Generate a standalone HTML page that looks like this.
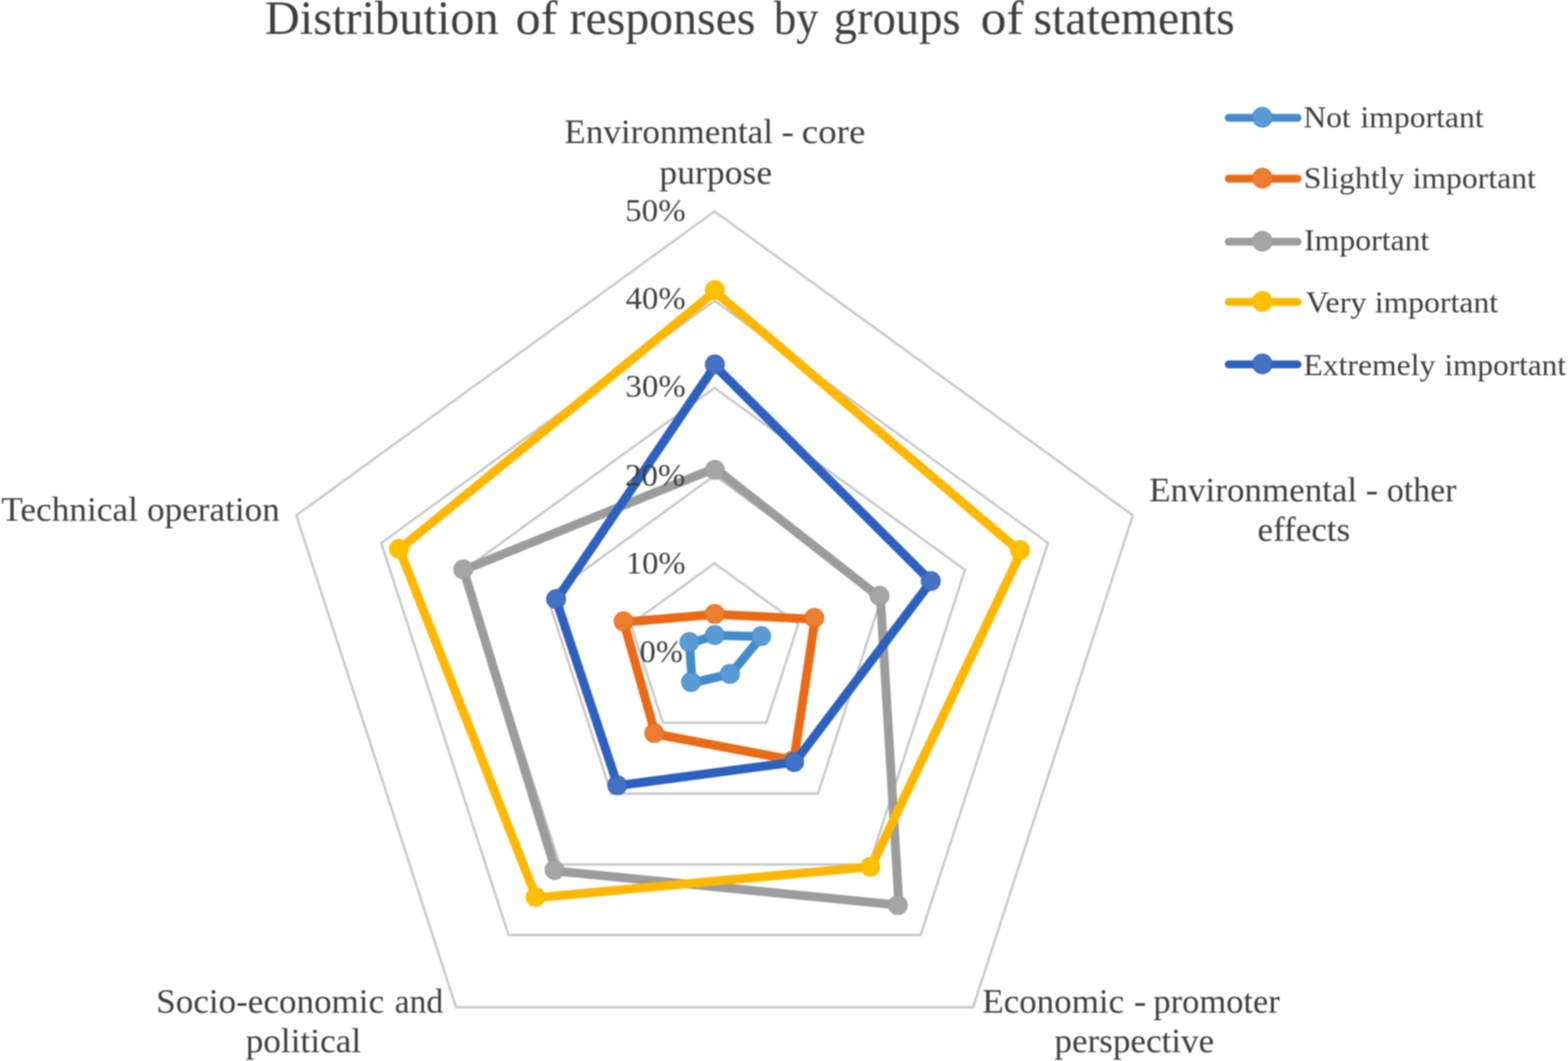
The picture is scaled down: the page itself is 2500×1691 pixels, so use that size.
<!DOCTYPE html>
<html lang="en"><head><meta charset="utf-8">
<title>Distribution of responses by groups of statements</title>
<style>
html,body{margin:0;padding:0;background:#fff;}
body{width:2500px;height:1691px;overflow:hidden;}
svg{display:block;}
text{font-family:"Liberation Serif","DejaVu Serif",serif;fill:#3e3e3e;white-space:pre;}
.grid{fill:none;stroke:#C6C6C6;stroke-width:3.6;stroke-linejoin:round;}
.ser{fill:none;stroke-width:14.2;stroke-linejoin:round;stroke-linecap:round;}
</style></head><body>
<svg width="2500" height="1691" viewBox="0 0 2500 1691">
<defs><filter id="soft" x="0" y="0" width="2500" height="1691" filterUnits="userSpaceOnUse" color-interpolation-filters="sRGB"><feGaussianBlur stdDeviation="1.1"/></filter></defs>
<rect x="0" y="0" width="2500" height="1691" fill="#ffffff"/>
<g filter="url(#soft)">
<g class="grid">
<polygon points="1139.3,897.7 1272.8,994.7 1221.8,1151.7 1056.8,1151.7 1005.8,994.7"/>
<polygon points="1139.3,757.8 1405.9,951.5 1304.1,1264.9 974.5,1264.9 872.7,951.5"/>
<polygon points="1139.3,618.2 1538.6,908.3 1386.1,1377.8 892.5,1377.8 740.0,908.3"/>
<polygon points="1139.3,479.3 1670.8,865.4 1467.8,1490.2 810.8,1490.2 607.8,865.4"/>
<polygon points="1139.3,336.9 1806.2,821.4 1551.5,1605.4 727.1,1605.4 472.4,821.4"/>
</g>
<g>
<polygon class="ser" stroke="#428BCD" points="1139.9,1012.7 1214.3,1014.5 1165.4,1073.8 1103.7,1088.5 1099.3,1025.5"/>
<circle cx="1139.7" cy="1012.1" r="15.05" fill="#5B9BD5" stroke="#428BCD" stroke-width="1.5"/>
<circle cx="1213.7" cy="1013.8" r="15.05" fill="#5B9BD5" stroke="#428BCD" stroke-width="1.5"/>
<circle cx="1163.8" cy="1074.0" r="15.05" fill="#5B9BD5" stroke="#428BCD" stroke-width="1.5"/>
<circle cx="1101.8" cy="1087.0" r="15.05" fill="#5B9BD5" stroke="#428BCD" stroke-width="1.5"/>
<circle cx="1099.2" cy="1023.3" r="15.05" fill="#5B9BD5" stroke="#428BCD" stroke-width="1.5"/>
</g>
<g>
<polygon class="ser" stroke="#E96A17" points="1139.9,979.1 1299.5,986.9 1265.7,1211.8 1044.7,1169.7 994.6,991.5"/>
<circle cx="1139.7" cy="978.5" r="15.05" fill="#ED7D31" stroke="#E96A17" stroke-width="1.5"/>
<circle cx="1298.4" cy="984.8" r="15.05" fill="#ED7D31" stroke="#E96A17" stroke-width="1.5"/>
<circle cx="1264.0" cy="1212.0" r="15.05" fill="#ED7D31" stroke="#E96A17" stroke-width="1.5"/>
<circle cx="1043.0" cy="1168.3" r="15.05" fill="#ED7D31" stroke="#E96A17" stroke-width="1.5"/>
<circle cx="994.2" cy="990.3" r="15.05" fill="#ED7D31" stroke="#E96A17" stroke-width="1.5"/>
</g>
<g>
<polygon class="ser" stroke="#9C9C9C" points="1139.9,746.4 1403.8,953.0 1433.3,1442.5 886.0,1388.2 739.1,908.5"/>
<circle cx="1139.7" cy="748.8" r="15.05" fill="#A5A5A5" stroke="#9C9C9C" stroke-width="1.5"/>
<circle cx="1402.3" cy="949.6" r="15.05" fill="#A5A5A5" stroke="#9C9C9C" stroke-width="1.5"/>
<circle cx="1431.5" cy="1442.7" r="15.05" fill="#A5A5A5" stroke="#9C9C9C" stroke-width="1.5"/>
<circle cx="884.2" cy="1386.7" r="15.05" fill="#A5A5A5" stroke="#9C9C9C" stroke-width="1.5"/>
<circle cx="738.6" cy="907.6" r="15.05" fill="#A5A5A5" stroke="#9C9C9C" stroke-width="1.5"/>
</g>
<g>
<polygon class="ser" stroke="#FFB700" points="1139.9,464.8 1627.7,880.2 1389.0,1381.5 855.1,1430.7 636.8,875.2"/>
<circle cx="1139.7" cy="462.2" r="15.05" fill="#FFC000" stroke="#FFB700" stroke-width="1.5"/>
<circle cx="1626.2" cy="876.8" r="15.05" fill="#FFC000" stroke="#FFB700" stroke-width="1.5"/>
<circle cx="1387.6" cy="1381.5" r="15.05" fill="#FFC000" stroke="#FFB700" stroke-width="1.5"/>
<circle cx="854.0" cy="1429.7" r="15.05" fill="#FFC000" stroke="#FFB700" stroke-width="1.5"/>
<circle cx="636.1" cy="874.9" r="15.05" fill="#FFC000" stroke="#FFB700" stroke-width="1.5"/>
</g>
<g>
<polygon class="ser" stroke="#2D61BF" points="1139.9,583.3 1484.6,926.7 1267.6,1214.5 984.8,1252.1 886.9,956.5"/>
<circle cx="1139.7" cy="580.9" r="15.05" fill="#4472C4" stroke="#2D61BF" stroke-width="1.5"/>
<circle cx="1484.0" cy="926.0" r="15.05" fill="#4472C4" stroke="#2D61BF" stroke-width="1.5"/>
<circle cx="1266.1" cy="1214.5" r="15.05" fill="#4472C4" stroke="#2D61BF" stroke-width="1.5"/>
<circle cx="984.2" cy="1251.5" r="15.05" fill="#4472C4" stroke="#2D61BF" stroke-width="1.5"/>
<circle cx="886.6" cy="954.9" r="15.05" fill="#4472C4" stroke="#2D61BF" stroke-width="1.5"/>
</g>
<g>
<line x1="1959" y1="187.8" x2="2069" y2="187.8" stroke="#428BCD" stroke-width="12.4" stroke-linecap="round"/>
<circle cx="2012.7" cy="187.0" r="15.65" fill="#5B9BD5" stroke="#428BCD" stroke-width="1.5"/>
<line x1="1959" y1="284.8" x2="2069" y2="284.8" stroke="#E96A17" stroke-width="12.4" stroke-linecap="round"/>
<circle cx="2012.7" cy="284.0" r="15.65" fill="#ED7D31" stroke="#E96A17" stroke-width="1.5"/>
<line x1="1959" y1="385.3" x2="2069" y2="385.3" stroke="#9C9C9C" stroke-width="12.4" stroke-linecap="round"/>
<circle cx="2012.7" cy="384.5" r="15.65" fill="#A5A5A5" stroke="#9C9C9C" stroke-width="1.5"/>
<line x1="1959" y1="481.3" x2="2069" y2="481.3" stroke="#FFB700" stroke-width="12.4" stroke-linecap="round"/>
<circle cx="2012.7" cy="480.5" r="15.65" fill="#FFC000" stroke="#FFB700" stroke-width="1.5"/>
<line x1="1959" y1="580.8" x2="2069" y2="580.8" stroke="#2D61BF" stroke-width="12.4" stroke-linecap="round"/>
<circle cx="2012.7" cy="580.0" r="15.65" fill="#4472C4" stroke="#2D61BF" stroke-width="1.5"/>
</g>
<g>
<text font-size="77.0"><tspan x="422.35" y="54.00" textLength="372.64" lengthAdjust="spacingAndGlyphs">Distribution</tspan> <tspan x="821.98" y="54.00" textLength="66.72" lengthAdjust="spacingAndGlyphs">of</tspan> <tspan x="908.01" y="54.00" textLength="296.55" lengthAdjust="spacingAndGlyphs">responses</tspan> <tspan x="1234.00" y="54.00" textLength="71.03" lengthAdjust="spacingAndGlyphs">by</tspan> <tspan x="1329.37" y="54.00" textLength="202.09" lengthAdjust="spacingAndGlyphs">groups</tspan> <tspan x="1563.40" y="54.00" textLength="68.50" lengthAdjust="spacingAndGlyphs">of</tspan> <tspan x="1647.69" y="54.00" textLength="320.97" lengthAdjust="spacingAndGlyphs">statements</tspan></text>
<text font-size="55.6"><tspan x="899.79" y="228.20" textLength="332.66" lengthAdjust="spacingAndGlyphs">Environmental</tspan> <tspan x="1245.95" y="228.20" textLength="19.92" lengthAdjust="spacingAndGlyphs">-</tspan> <tspan x="1278.38" y="228.20" textLength="101.56" lengthAdjust="spacingAndGlyphs">core</tspan> <tspan x="1051.28" y="292.60" textLength="179.88" lengthAdjust="spacingAndGlyphs">purpose</tspan></text>
<text font-size="55.6"><tspan x="1832.19" y="798.70" textLength="331.65" lengthAdjust="spacingAndGlyphs">Environmental</tspan> <tspan x="2177.33" y="798.70" textLength="20.05" lengthAdjust="spacingAndGlyphs">-</tspan> <tspan x="2211.36" y="798.70" textLength="110.81" lengthAdjust="spacingAndGlyphs">other</tspan> <tspan x="2004.94" y="862.00" textLength="147.81" lengthAdjust="spacingAndGlyphs">effects</tspan></text>
<text font-size="55.6"><tspan x="1566.20" y="1613.90" textLength="226.05" lengthAdjust="spacingAndGlyphs">Economic</tspan> <tspan x="1807.75" y="1613.90" textLength="19.92" lengthAdjust="spacingAndGlyphs">-</tspan> <tspan x="1839.01" y="1613.90" textLength="201.51" lengthAdjust="spacingAndGlyphs">promoter</tspan> <tspan x="1681.19" y="1677.20" textLength="254.71" lengthAdjust="spacingAndGlyphs">perspective</tspan></text>
<text font-size="55.6"><tspan x="249.13" y="1613.90" textLength="363.35" lengthAdjust="spacingAndGlyphs">Socio-economic</tspan> <tspan x="629.27" y="1613.90" textLength="77.38" lengthAdjust="spacingAndGlyphs">and</tspan> <tspan x="391.69" y="1677.20" textLength="184.11" lengthAdjust="spacingAndGlyphs">political</tspan></text>
<text font-size="55.6"><tspan x="2.09" y="830.20" textLength="217.84" lengthAdjust="spacingAndGlyphs">Technical</tspan> <tspan x="234.48" y="830.20" textLength="211.58" lengthAdjust="spacingAndGlyphs">operation</tspan></text>
<text font-size="50.0" fill="#585858"><tspan x="996.84" y="351.60" textLength="96.40" lengthAdjust="spacingAndGlyphs">50%</tspan></text>
<text font-size="50.0" fill="#585858"><tspan x="997.46" y="492.00" textLength="95.78" lengthAdjust="spacingAndGlyphs">40%</tspan></text>
<text font-size="50.0" fill="#585858"><tspan x="997.39" y="632.20" textLength="95.85" lengthAdjust="spacingAndGlyphs">30%</tspan></text>
<text font-size="50.0" fill="#585858"><tspan x="996.54" y="774.00" textLength="96.20" lengthAdjust="spacingAndGlyphs">20%</tspan></text>
<text font-size="50.0" fill="#585858"><tspan x="997.71" y="913.70" textLength="95.52" lengthAdjust="spacingAndGlyphs">10%</tspan></text>
<text font-size="50.0" fill="#585858"><tspan x="1019.83" y="1054.60" textLength="68.88" lengthAdjust="spacingAndGlyphs">0%</tspan></text>
<text font-size="49.0"><tspan x="2078.26" y="203.10" textLength="75.29" lengthAdjust="spacingAndGlyphs">Not</tspan> <tspan x="2169.07" y="203.10" textLength="196.52" lengthAdjust="spacingAndGlyphs">important</tspan></text>
<text font-size="49.0"><tspan x="2078.85" y="300.20" textLength="160.18" lengthAdjust="spacingAndGlyphs">Slightly</tspan> <tspan x="2252.27" y="300.20" textLength="196.42" lengthAdjust="spacingAndGlyphs">important</tspan></text>
<text font-size="49.0"><tspan x="2079.19" y="398.50" textLength="199.65" lengthAdjust="spacingAndGlyphs">Important</tspan></text>
<text font-size="49.0"><tspan x="2081.67" y="497.60" textLength="97.22" lengthAdjust="spacingAndGlyphs">Very</tspan> <tspan x="2191.97" y="497.60" textLength="196.52" lengthAdjust="spacingAndGlyphs">important</tspan></text>
<text font-size="49.0"><tspan x="2078.25" y="598.10" textLength="210.30" lengthAdjust="spacingAndGlyphs">Extremely</tspan> <tspan x="2302.88" y="598.10" textLength="194.00" lengthAdjust="spacingAndGlyphs">important</tspan></text>
</g>
</g>
</svg>
</body></html>
